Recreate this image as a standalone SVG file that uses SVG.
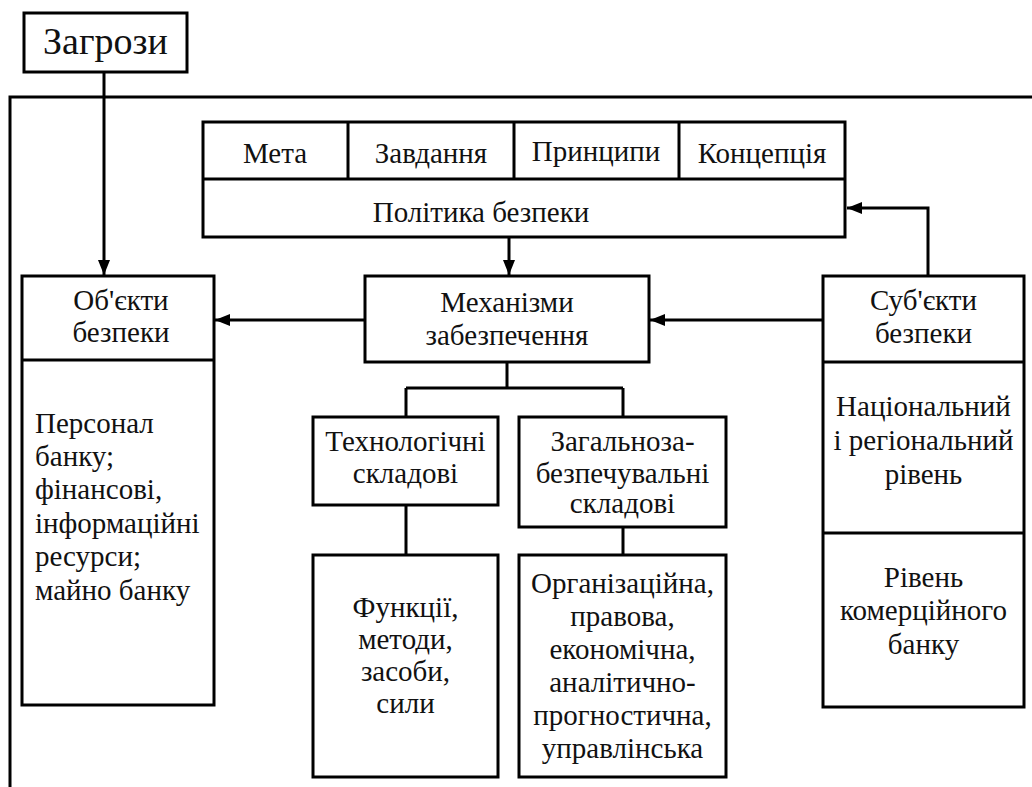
<svg xmlns="http://www.w3.org/2000/svg" width="1032" height="787" viewBox="0 0 1032 787">
<style>
.b{fill:#fff;stroke:#000;stroke-width:3}
.l{fill:none;stroke:#000;stroke-width:3}
.c{stroke:#000;stroke-width:3;fill:none}
text{font-family:'Liberation Serif','Times New Roman',serif;font-size:29px;fill:#111}
.m{text-anchor:middle}
.big{font-size:38px}
</style>
<defs>
<marker id="ah" markerUnits="userSpaceOnUse" markerWidth="16" markerHeight="12" refX="15" refY="6" orient="auto">
<path d="M0,0 L15,6 L0,12 z" fill="#000"/>
</marker>
</defs>
<rect width="1032" height="787" fill="#fff"/>
<g id="frame"><path class="l" d="M1032,97 H10 V787"/></g>
<g id="connectors">
<path class="c" d="M104,72 V275" marker-end="url(#ah)"/>
<path class="c" d="M509,237 V275" marker-end="url(#ah)"/>
<path class="c" d="M365,320 H215" marker-end="url(#ah)"/>
<path class="c" d="M823,320 H650" marker-end="url(#ah)"/>
<path class="c" d="M928,276 V208 H847" marker-end="url(#ah)"/>
<path class="c" d="M507,362 V388 M406,388 H623 M406,388 V417 M623,388 V417"/>
<path class="c" d="M406,505 V555 M623,527 V555"/>
</g>
<g id="zagrozy">
<rect class="b" x="24" y="13" width="163" height="59"/>
<text class="m big" x="105.5" y="54">Загрози</text>
</g>
<g id="polityka">
<rect class="b" x="203" y="122" width="642" height="115"/>
<path class="l" d="M203,179 H845 M348,122 V179 M514,122 V179 M679,122 V179"/>
<text class="m" x="275" y="163">Мета</text>
<text class="m" x="431" y="163">Завдання</text>
<text class="m" x="596" y="161">Принципи</text>
<text class="m" x="762" y="163">Концепція</text>
<text class="m" x="481" y="222">Політика безпеки</text>
</g>
<g id="obiekty">
<rect class="b" x="22" y="276" width="192" height="429"/>
<path class="l" d="M22,360 H214"/>
<text class="m" x="121" y="310">Об'єкти</text>
<text class="m" x="121" y="342">безпеки</text>
<text x="35" y="433">Персонал</text>
<text x="35" y="466">банку;</text>
<text x="35" y="499">фінансові,</text>
<text x="35" y="533">інформаційні</text>
<text x="35" y="566">ресурси;</text>
<text x="35" y="600">майно банку</text>
</g>
<g id="mekhanizmy">
<rect class="b" x="365" y="276" width="284" height="86"/>
<text class="m" x="507" y="312">Механізми</text>
<text class="m" x="507" y="345">забезпечення</text>
</g>
<g id="subiekty">
<rect class="b" x="823" y="276" width="201" height="431"/>
<path class="l" d="M823,362 H1024 M823,533 H1024"/>
<text class="m" x="923.5" y="310">Суб'єкти</text>
<text class="m" x="923.5" y="343">безпеки</text>
<text class="m" x="923.5" y="416">Національний</text>
<text class="m" x="923.5" y="450">і регіональний</text>
<text class="m" x="923.5" y="484">рівень</text>
<text class="m" x="923.5" y="587">Рівень</text>
<text class="m" x="923.5" y="620">комерційного</text>
<text class="m" x="923.5" y="654">банку</text>
</g>
<g id="tekhnologichni">
<rect class="b" x="313" y="417" width="185" height="88"/>
<text class="m" x="405.5" y="451">Технологічні</text>
<text class="m" x="405.5" y="483">складові</text>
</g>
<g id="zagalnozabezpechuvalni">
<rect class="b" x="519" y="417" width="207" height="110"/>
<text class="m" x="622.5" y="451">Загальноза-</text>
<text class="m" x="622.5" y="483">безпечувальні</text>
<text class="m" x="622.5" y="513">складові</text>
</g>
<g id="funktsii">
<rect class="b" x="313" y="555" width="185" height="222"/>
<text class="m" x="405.5" y="617">Функції,</text>
<text class="m" x="405.5" y="649">методи,</text>
<text class="m" x="405.5" y="681">засоби,</text>
<text class="m" x="405.5" y="713">сили</text>
</g>
<g id="skladovi">
<rect class="b" x="519" y="555" width="207" height="222"/>
<text class="m" x="622.5" y="593">Організаційна,</text>
<text class="m" x="622.5" y="626">правова,</text>
<text class="m" x="622.5" y="659">економічна,</text>
<text class="m" x="622.5" y="692">аналітично-</text>
<text class="m" x="622.5" y="725">прогностична,</text>
<text class="m" x="622.5" y="758">управлінська</text>
</g>
</svg>
